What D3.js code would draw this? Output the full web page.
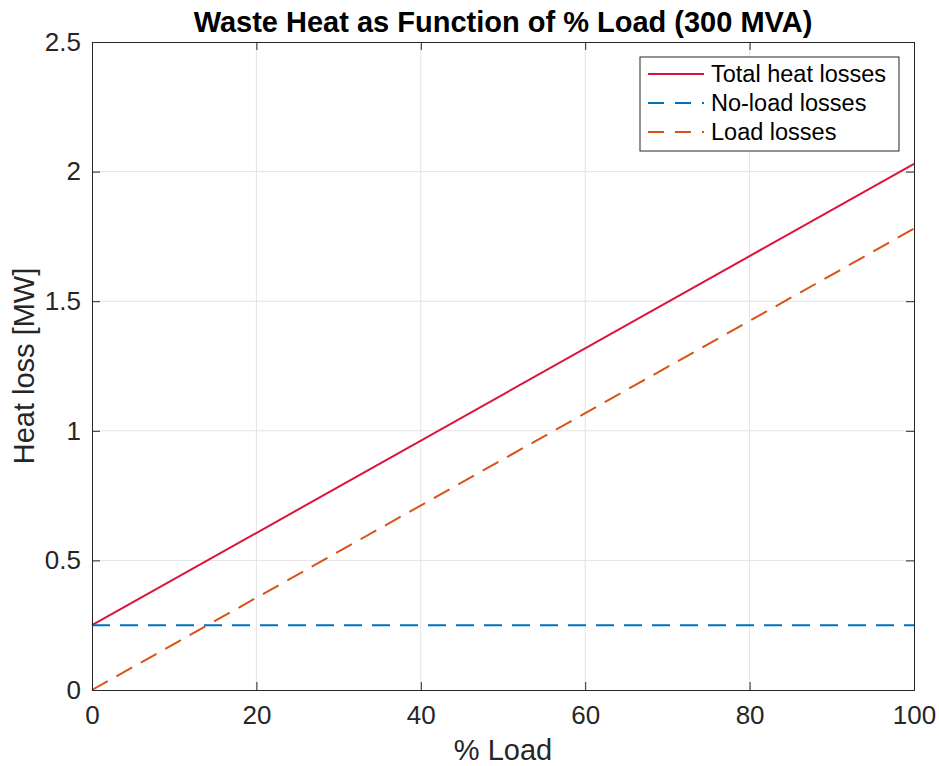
<!DOCTYPE html>
<html>
<head>
<meta charset="utf-8">
<script src="https://cdn.jsdelivr.net/npm/d3@7"></script>
<style>
  body { margin: 0; background: #fff; }
  text { font-family: "Liberation Sans", Arial, sans-serif; }
</style>
</head>
<body>
<div id="chart"></div>
<script>
// data
const loadPct = [0, 100];
const totalLosses = [0.25, 2.03];
const noLoadLosses = [0.25, 0.25];
const loadLosses = [0, 1.78];
const xTicks = [0, 20, 40, 60, 80, 100];
const yTicks = [0, 0.5, 1, 1.5, 2, 2.5];
const seriesNames = ['Total heat losses', 'No-load losses', 'Load losses'];

const width = 939, height = 766;
const margin = { top: 42, right: 25, bottom: 76, left: 92 };
const iw = width - margin.left - margin.right;
const ih = height - margin.top - margin.bottom;

const svg = d3.select('#chart').append('svg')
  .attr('width', width).attr('height', height);

const g = svg.append('g').attr('transform', `translate(${margin.left},${margin.top})`);

const x = d3.scaleLinear().domain([0, 100]).range([0, iw]);
const y = d3.scaleLinear().domain([0, 2.5]).range([ih, 0]);

// grid
g.append('g').selectAll('line').data(xTicks.slice(1, -1)).join('line')
  .attr('x1', d => x(d)).attr('x2', d => x(d)).attr('y1', 0).attr('y2', ih)
  .attr('stroke', '#e3e3e3').attr('stroke-width', 1);
g.append('g').selectAll('line').data(yTicks.slice(1, -1)).join('line')
  .attr('y1', d => y(d)).attr('y2', d => y(d)).attr('x1', 0).attr('x2', iw)
  .attr('stroke', '#e3e3e3').attr('stroke-width', 1);

// series
const series = [
  { name: seriesNames[0], vals: totalLosses, color: '#dc143c', dash: null },
  { name: seriesNames[1], vals: noLoadLosses, color: '#0072bd', dash: '18,10' },
  { name: seriesNames[2], vals: loadLosses, color: '#d95319', dash: '18,10' }
];
const line = d3.line().x(d => x(d[0])).y(d => y(d[1]));
g.append('g').selectAll('path').data(series).join('path')
  .attr('d', s => line(loadPct.map((p, i) => [p, s.vals[i]])))
  .attr('fill', 'none')
  .attr('stroke', s => s.color)
  .attr('stroke-width', 2)
  .attr('stroke-dasharray', s => s.dash);

// axes (ticks inward, box on)
const tickLen = 8;
const axisColor = '#262626';
g.append('g').attr('transform', `translate(0,${ih})`)
  .call(d3.axisBottom(x).tickValues(xTicks).tickSize(-tickLen).tickPadding(16));
g.append('g')
  .call(d3.axisLeft(y).tickValues(yTicks).tickSize(-tickLen).tickPadding(11)
    .tickFormat(d => String(d)));
g.append('g')
  .call(d3.axisTop(x).tickValues(xTicks).tickSize(-tickLen).tickFormat(''));
g.append('g').attr('transform', `translate(${iw},0)`)
  .call(d3.axisRight(y).tickValues(yTicks).tickSize(-tickLen).tickFormat(''));
g.selectAll('.domain, .tick line').attr('stroke', axisColor).attr('stroke-width', 1);
g.selectAll('.tick text').attr('fill', axisColor).style('font-size', '26px')
  .style('font-family', '"Liberation Sans", Arial, sans-serif');

// labels
svg.append('text')
  .attr('x', margin.left + iw / 2).attr('y', 32)
  .attr('text-anchor', 'middle')
  .style('font-size', '29px').style('font-weight', 'bold').attr('fill', '#000')
  .text('Waste Heat as Function of % Load (300 MVA)');
svg.append('text')
  .attr('x', margin.left + iw / 2).attr('y', 760)
  .attr('text-anchor', 'middle')
  .style('font-size', '29px').attr('fill', axisColor)
  .text('% Load');
svg.append('text')
  .attr('transform', `translate(34,${margin.top + ih / 2}) rotate(-90)`)
  .attr('text-anchor', 'middle')
  .style('font-size', '29px').attr('fill', axisColor)
  .text('Heat loss [MW]');

// legend
const lg = svg.append('g').attr('transform', 'translate(640,57)');
lg.append('rect').attr('width', 259).attr('height', 94)
  .attr('fill', '#fff').attr('stroke', axisColor).attr('stroke-width', 1);
const rows = lg.selectAll('g.row').data(series).join('g')
  .attr('class', 'row')
  .attr('transform', (d, i) => `translate(0,${17 + i * 29})`);
rows.append('line')
  .attr('x1', 8).attr('x2', 64).attr('y1', 0).attr('y2', 0)
  .attr('stroke', d => d.color).attr('stroke-width', 2)
  .attr('stroke-dasharray', d => d.dash ? '16,11' : null);
rows.append('text')
  .attr('x', 71).attr('y', 8)
  .style('font-size', '23.5px').attr('fill', '#000')
  .text(d => d.name);
</script>
</body>
</html>
